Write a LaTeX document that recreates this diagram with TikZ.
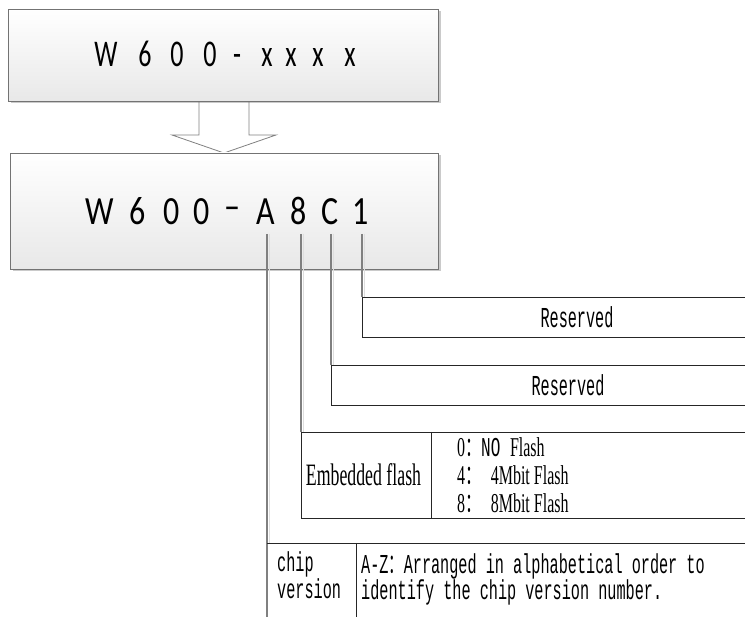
\documentclass[tikz,border=0pt]{standalone}
\usepackage{fontspec}
\setmainfont{Liberation Serif}
\newfontfamily\calfont{Carlito}
\newfontfamily\monofont{Liberation Mono}
\newfontfamily\cjkfont{Noto Sans CJK SC}
\usetikzlibrary{shadows}
\newcommand\vstretch[2]{\scalebox{1}[#1]{#2}}
\newcommand\fwcolon{{\cjkfont ：}}
\begin{document}
\begin{tikzpicture}[x=1pt,y=-1pt,
  codebox/.style={draw=black!55, line width=0.8pt, top color=white, bottom color=black!9,
    drop shadow={shadow xshift=2.5pt,shadow yshift=-2.5pt,opacity=0.35,fill=black!60}, inner sep=0pt},
  topch/.style={anchor=base, inner sep=0pt, font=\calfont\fontsize{26}{26}\selectfont},
  midch/.style={anchor=base, inner sep=0pt, font=\calfont\fontsize{32}{32}\selectfont},
  arrowshape/.style={draw=black!50, line width=0.8pt, fill=white},
  vline/.style={draw=black!50, line width=1.2pt},
  vshade/.style={draw=black!13, line width=1pt},
  tline/.style={draw=black!85, line width=0.8pt},
  monotxt/.style={inner sep=0pt, font=\monofont\fontsize{15.2}{13}\selectfont},
  serif/.style={inner sep=0pt, font=\fontsize{16}{16}\selectfont},
]
\useasboundingbox (0,0) rectangle (745,617);
\clip (0,0) rectangle (745,617);

% block arrow
\draw[arrowshape] (199,101) -- (199,135) -- (172,135) -- (224,153) -- (276,135) -- (249,135) -- (249,101);

% boxes
\node[codebox, minimum width=430pt, minimum height=92pt] (topbox) at (223,55) {};
\node[codebox, minimum width=428pt, minimum height=116pt] (midbox) at (224,211) {};

\foreach \c/\x [count=\i] in {W/106,6/145,0/177,0/210,-/237,x/267,x/291,x/318,x/350}
  \node[topch] (t\i) at (\x,67) {\vstretch{1.45}{\c}};
\foreach \c/\x [count=\i] in {W/100,6/138,0/172,0/202,{\raisebox{4.5pt}{–}}/232,A/266,8/299,C/330,1/361}
  \node[midch] (m\i) at (\x,225) {\vstretch{1.25}{\c}};

% connector coordinates
\coordinate (pA) at (267,234); \coordinate (cA) at (267,543); \coordinate (eA) at (267,630);
\coordinate (p8) at (301,234); \coordinate (c8) at (301,432);
\coordinate (pC) at (331,234); \coordinate (cC) at (331,365);
\coordinate (p1) at (362,234); \coordinate (c1) at (362,297);

% shades of the connectors
\draw[vshade] ([xshift=2pt]pA) -- ([xshift=2pt]cA);
\draw[vshade] ([xshift=2pt]p8) -- ([xshift=2pt]c8);
\draw[vshade] ([xshift=2pt]pC) -- ([xshift=2pt]cC);
\draw[vshade] ([xshift=2pt]p1) -- ([xshift=2pt]c1);

% connectors
\draw[vline] (pA) -- (eA);
\draw[vline] (p8) -- (c8);
\draw[vline] (pC) -- (cC);
\draw[vline] (p1) -- (c1);

% table boxes
\draw[tline] (760,297) -- (c1) -- (362,337) -- (760,337);
\draw[tline] (760,365) -- (cC) -- (331,405) -- (760,405);
\draw[tline] (760,432) -- (c8) -- (301,518) -- (760,518);
\draw[tline] (431,432) -- (431,518);
\draw[tline] (cA) -- (760,543);
\draw[tline] (356,543) -- (356,630);

% texts
\node[monotxt] (res1) at (577,317) {\vstretch{1.9}{Reserved}};
\node[monotxt] (res2) at (568,385) {\vstretch{1.9}{Reserved}};
\node[serif, font=\fontsize{17.8}{17.8}\selectfont] (emb) at (363.5,475) {\vstretch{1.75}{Embedded flash}};
\node[serif, anchor=base west] (o1) at (457,457) {\vstretch{1.7}{0\fwcolon{\monofont NO }Flash}};
\node[serif, anchor=base west] (o2) at (457,485) {\vstretch{1.7}{4\fwcolon{\monofont\ }4Mbit Flash}};
\node[serif, anchor=base west] (o3) at (457,513) {\vstretch{1.7}{8\fwcolon{\monofont\ }8Mbit Flash}};
\node[monotxt, anchor=base west] (chip) at (277,572)
  {\vstretch{1.8}{\begin{tabular}[t]{@{}l@{}}chip\\version\end{tabular}}};
\node[monotxt, anchor=base west] (az) at (361,573)
  {\vstretch{1.8}{\begin{tabular}[t]{@{}l@{}}A-Z\fwcolon Arranged in alphabetical order to\\identify the chip version number.\end{tabular}}};
\end{tikzpicture}
\end{document}
